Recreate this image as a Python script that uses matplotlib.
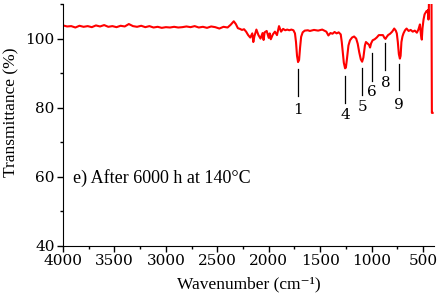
import matplotlib
matplotlib.use('Agg')
import matplotlib.pyplot as plt
from matplotlib.ticker import MultipleLocator

# spectrum (wavenumber cm-1, transmittance %)
wavenumber = [4000, 3960, 3920, 3880, 3840, 3800, 3760, 3720, 3680, 3640,
              3600, 3560, 3520, 3480, 3440, 3400, 3360, 3320, 3280, 3240,
              3200, 3160, 3120, 3080, 3040, 3000, 2960, 2920, 2880, 2840,
              2800, 2760, 2720, 2680, 2640, 2600, 2560, 2520, 2480, 2440,
              2400, 2370, 2340, 2320, 2300, 2280, 2260, 2240, 2220, 2200,
              2180, 2160, 2150, 2140, 2120, 2100, 2080, 2060, 2050, 2040,
              2020, 2000, 1990, 1980, 1960, 1940, 1920, 1900, 1880, 1860,
              1840, 1820, 1800, 1780, 1760, 1745, 1735, 1725, 1715, 1705,
              1695, 1685, 1670, 1650, 1620, 1600, 1560, 1520, 1480, 1440,
              1420, 1400, 1380, 1360, 1340, 1320, 1300, 1290, 1280, 1270,
              1258, 1250, 1240, 1225, 1210, 1190, 1170, 1150, 1135, 1120,
              1105, 1092, 1080, 1065, 1055, 1040, 1025, 1015, 1005, 990,
              970, 950, 930, 910, 890, 875, 865, 855, 840, 820,
              800, 780, 765, 755, 745, 735, 725, 718, 710, 700,
              690, 675, 660, 640, 620, 600, 580, 560, 545, 530,
              520, 512, 505, 495, 485, 475, 465, 455, 450, 447,
              444, 440, 418, 414, 407]
transmittance = [103.8, 103.5, 103.6, 103.2, 103.7, 103.4, 103.6, 103.3, 103.8, 103.5,
                 103.9, 103.4, 103.6, 103.3, 103.7, 103.5, 104.2, 103.6, 103.4, 103.7,
                 103.3, 103.6, 103.2, 103.4, 103.1, 103.3, 103.2, 103.4, 103.2, 103.3,
                 103.5, 103.3, 103.6, 103.2, 103.4, 103.1, 103.5, 103.3, 102.9, 103.4,
                 103.2, 104.0, 105.0, 104.2, 103.0, 102.8, 102.5, 102.7, 102.0, 101.0,
                 100.3, 101.5, 99.0, 100.6, 102.6, 101.0, 100.0, 101.6, 99.6, 101.8,
                 102.2, 100.2, 101.5, 99.8, 101.2, 102.0, 101.0, 103.6, 102.0, 102.8,
                 102.4, 102.6, 102.4, 102.6, 102.4, 101.5, 99.0, 95.0, 93.2, 93.8,
                 97.5, 100.5, 101.8, 102.3, 102.4, 102.2, 102.5, 102.3, 102.6, 102.0,
                 100.9, 101.6, 101.4, 101.9, 101.5, 101.8, 101.2, 99.0, 96.0, 93.0,
                 91.4, 91.6, 94.0, 98.0, 99.5, 100.3, 100.6, 100.0, 98.5, 96.0,
                 94.0, 93.3, 94.5, 98.0, 99.0, 98.6, 98.2, 97.4, 98.6, 99.5,
                 99.8, 100.3, 101.0, 101.0, 101.0, 100.2, 99.9, 100.4, 101.0, 101.4,
                 102.0, 102.9, 102.3, 101.5, 99.0, 95.5, 94.2, 95.0, 99.0, 100.6,
                 101.5, 102.4, 102.9, 102.2, 102.5, 102.0, 102.3, 101.7, 102.6, 104.1,
                 101.0, 99.7, 103.0, 105.5, 107.0, 107.5, 108.0, 107.6, 108.3, 105.5,
                 108.0, 115.0, 115.0, 78.5, 78.5]

# band labels
band_labels = ['1', '4', '5', '6', '8', '9']
band_pos = [1712, 1255, 1090, 999, 866, 730]
line_top = [91.3, 89.3, 91.5, 95.7, 98.6, 92.5]
line_bottom = [83.3, 81.4, 83.8, 87.6, 91.0, 85.2]
label_y = [79.2, 78.0, 80.2, 84.6, 87.2, 80.9]

plt.rcParams['font.family'] = ['Liberation Serif', 'DejaVu Serif']

fig = plt.figure(figsize=(4.41, 2.96), dpi=100)
ax = fig.add_axes([0.1429, 0.169, 0.8413, 0.8175])

ax.plot(wavenumber, transmittance, color='red', lw=1.5)

for lab, x, y1, y2, ly in zip(band_labels, band_pos, line_top, line_bottom, label_y):
    ax.plot([x, x], [y1, y2], color='black', lw=0.9)
    ax.text(x, ly, lab, ha='center', va='center', fontsize=11, family='DejaVu Serif')

ax.text(3903, 59.7, 'e) After 6000 h at 140\u00b0C', ha='left', va='center', fontsize=13)

ax.set_xlim(4000, 393)
ax.set_ylim(40, 110)
ax.set_xticks([4000, 3500, 3000, 2500, 2000, 1500, 1000, 500])
ax.set_yticks([40, 60, 80, 100])
ax.xaxis.set_minor_locator(MultipleLocator(250))
ax.yaxis.set_minor_locator(MultipleLocator(10))
ax.tick_params(which='major', direction='out', length=4, width=1, labelsize=11, pad=2)
ax.tick_params(which='minor', direction='out', length=2.5, width=1)
for t in ax.get_xticklabels() + ax.get_yticklabels():
    t.set_family('DejaVu Serif')
ax.spines['top'].set_visible(False)
ax.spines['right'].set_visible(False)

ax.set_xlabel('Wavenumber (cm\u207b\u00b9)', fontsize=12.5, labelpad=6)
ax.set_ylabel('Transmittance (%)', fontsize=12.5)
ax.yaxis.set_label_coords(-0.117, 0.554)

fig.savefig('out.png', dpi=100)
